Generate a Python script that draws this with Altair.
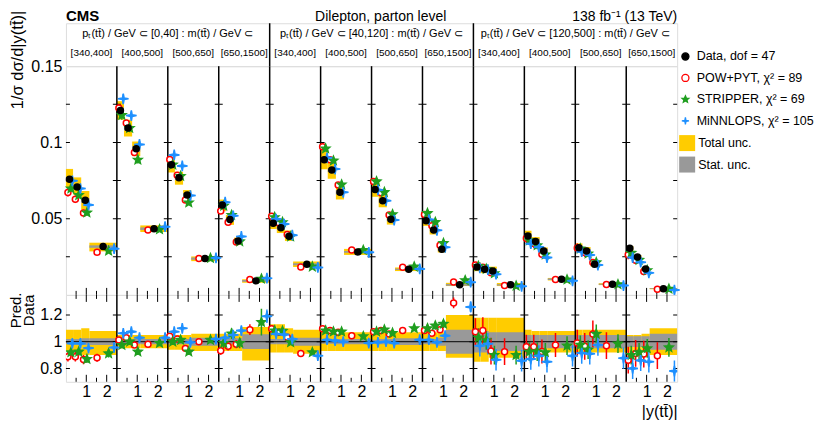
import math
import altair as alt
import pandas as pd

# ---------------- data ----------------
mass_bins = ["[340,400]", "[400,500]", "[500,650]", "[650,1500]"]
pt_bins = ["[0,40]", "[40,120]", "[120,500]"]
y_edges = [0.0, 0.35, 0.75, 1.15, 2.5]
point_labels = ["Data, dof = 47", "POW+PYT, \u03c7\u00b2 = 89", "STRIPPER, \u03c7\u00b2 = 69",
                "MiNNLOPS, \u03c7\u00b2 = 105"]
band_labels = ["Total unc.", "Stat. unc."]

data_vals = [0.0758, 0.0707, 0.0620, 0.0317,
             0.1210, 0.1094, 0.0958, 0.0434,
             0.0854, 0.0769, 0.0655, 0.0238,
             0.0590, 0.0494, 0.0354, 0.0092,
             0.0470, 0.0441, 0.0384, 0.0201,
             0.0886, 0.0819, 0.0673, 0.0282,
             0.0692, 0.0618, 0.0496, 0.0168,
             0.0487, 0.0426, 0.0299, 0.0066,
             0.0183, 0.0168, 0.0157, 0.0066,
             0.0386, 0.0351, 0.0288, 0.0103,
             0.0310, 0.0288, 0.0201, 0.0070,
             0.0306, 0.0249, 0.0170, 0.0041]

ratio_pow = [0.887, 0.887, 0.866, 0.880,
             1.013, 1.030, 0.975, 0.980,
             1.040, 1.020, 0.950, 1.000,
             0.932, 0.965, 0.980, 1.090,
             1.096, 1.070, 1.033, 0.912,
             1.096, 1.083, 1.070, 1.045,
             1.075, 1.083, 1.058, 1.083,
             1.083, 1.063, 1.090, 1.290,
             1.075, 1.083, 0.930, 0.925,
             0.962, 0.962, 0.927, 0.975,
             0.990, 0.965, 1.058, 0.970,
             0.862, 0.912, 0.907, 0.895]
ratio_strip = [0.920, 0.925, 0.870, 0.912,
               0.975, 1.000, 0.925, 0.990,
               1.000, 1.013, 0.925, 1.013,
               0.990, 1.060, 0.990, 1.146,
               1.083, 1.080, 0.995, 0.920,
               1.083, 1.075, 1.075, 1.040,
               1.075, 1.090, 1.065, 1.100,
               1.100, 1.120, 1.133, 1.450,
               1.030, 1.010, 0.900, 0.900,
               0.925, 0.925, 0.920, 0.970,
               0.977, 0.940, 1.058, 0.985,
               0.900, 0.920, 0.950, 0.957]
ratio_minn = [0.987, 0.987, 0.952, 0.957,
              1.063, 1.075, 1.030, 1.030,
              1.075, 1.100, 0.995, 1.020,
              1.030, 1.050, 1.083, 1.190,
              1.058, 1.053, 1.020, 0.895,
              1.015, 1.008, 1.000, 0.990,
              0.995, 1.000, 0.990, 1.015,
              1.015, 0.995, 1.045, 1.260,
              0.970, 0.985, 0.865, 0.857,
              0.870, 0.894, 0.850, 0.894,
              0.915, 0.910, 0.975, 0.877,
              0.800, 0.860, 0.850, 0.780]

err_pow = [0.035, 0.035, 0.035, 0.030,
           0.020, 0.020, 0.020, 0.020,
           0.020, 0.020, 0.020, 0.020,
           0.030, 0.030, 0.030, 0.040,
           0.020, 0.020, 0.020, 0.020,
           0.015, 0.015, 0.015, 0.015,
           0.015, 0.015, 0.015, 0.015,
           0.020, 0.020, 0.020, 0.040,
           0.100, 0.100, 0.100, 0.100,
           0.090, 0.090, 0.090, 0.090,
           0.100, 0.100, 0.100, 0.100,
           0.100, 0.100, 0.100, 0.100]
err_strip = [0.030, 0.030, 0.030, 0.030,
             0.025, 0.025, 0.025, 0.025,
             0.025, 0.025, 0.025, 0.025,
             0.040, 0.040, 0.040, 0.100,
             0.020, 0.020, 0.020, 0.020,
             0.020, 0.020, 0.020, 0.020,
             0.020, 0.020, 0.020, 0.020,
             0.030, 0.030, 0.030, 0.060,
             0.070, 0.070, 0.070, 0.070,
             0.070, 0.070, 0.070, 0.070,
             0.070, 0.070, 0.070, 0.070,
             0.070, 0.070, 0.070, 0.070]
err_minn = [0.020, 0.020, 0.020, 0.020,
            0.025, 0.025, 0.025, 0.025,
            0.020, 0.020, 0.020, 0.020,
            0.030, 0.030, 0.030, 0.050,
            0.015, 0.015, 0.015, 0.015,
            0.015, 0.015, 0.015, 0.015,
            0.015, 0.015, 0.015, 0.015,
            0.020, 0.020, 0.020, 0.040,
            0.080, 0.080, 0.080, 0.080,
            0.080, 0.080, 0.080, 0.080,
            0.080, 0.080, 0.080, 0.080,
            0.080, 0.080, 0.080, 0.080]

tot_up = [0.09, 0.09, 0.10, 0.08,
          0.05, 0.05, 0.05, 0.05,
          0.05, 0.05, 0.05, 0.06,
          0.06, 0.06, 0.06, 0.11,
          0.13, 0.13, 0.10, 0.09,
          0.08, 0.08, 0.08, 0.07,
          0.08, 0.08, 0.08, 0.07,
          0.07, 0.07, 0.07, 0.20,
          0.18, 0.18, 0.18, 0.18,
          0.09, 0.08, 0.08, 0.08,
          0.09, 0.09, 0.09, 0.09,
          0.05, 0.05, 0.06, 0.10]
tot_dn = [0.07, 0.07, 0.10, 0.10,
          0.05, 0.05, 0.05, 0.05,
          0.06, 0.06, 0.06, 0.07,
          0.07, 0.07, 0.07, 0.14,
          0.08, 0.08, 0.08, 0.09,
          0.07, 0.07, 0.07, 0.07,
          0.07, 0.07, 0.07, 0.07,
          0.07, 0.07, 0.07, 0.12,
          0.15, 0.15, 0.12, 0.12,
          0.08, 0.08, 0.08, 0.08,
          0.08, 0.08, 0.08, 0.08,
          0.08, 0.08, 0.08, 0.10]
stat_unc = [0.020, 0.020, 0.025, 0.025,
            0.015, 0.015, 0.020, 0.020,
            0.020, 0.020, 0.020, 0.030,
            0.020, 0.020, 0.025, 0.055,
            0.020, 0.020, 0.020, 0.030,
            0.015, 0.015, 0.020, 0.020,
            0.015, 0.020, 0.020, 0.025,
            0.020, 0.020, 0.030, 0.090,
            0.080, 0.080, 0.070, 0.070,
            0.050, 0.050, 0.050, 0.050,
            0.050, 0.050, 0.050, 0.050,
            0.040, 0.040, 0.040, 0.060]

# ---------------- styling ----------------
FONT = "Liberation Sans"
GOLD, GRAY, RED, GREEN, BLUE = "#ffcc00", "#999999", "#ff0000", "#1f9e1f", "#1e90ff"
W, H_HEAD, H_UP, H_RAT = 612, 43, 229, 87
PW = 2.5  # width of one |y| panel in axis units
NP = 12
TT = "tt\u0304"


def star_path(n, r_in):
    pts = []
    for k in range(2 * n):
        r = 1.0 if k % 2 == 0 else r_in
        a = math.pi * k / n - math.pi / 2
        pts.append((r * math.cos(a), r * math.sin(a)))
    return "M" + "L".join(f"{x:.3f},{y:.3f}" for x, y in pts) + "Z"


STAR5 = star_path(5, 0.45)
STAR4 = star_path(4, 0.22)
MARK_SIZE = {point_labels[0]: 36, point_labels[1]: 36, point_labels[2]: 80, point_labels[3]: 110}

# ---------------- tables ----------------
band_rows = []
for i, d in enumerate(data_vals):
    p, b = divmod(i, 4)
    lo, hi = p * PW + y_edges[b], p * PW + y_edges[b + 1]
    band_rows.append(dict(lo=lo, hi=hi, xc=(lo + hi) / 2, w=hi - lo, d=d,
                          t_lo=d * (1 - tot_dn[i]), t_hi=d * (1 + tot_up[i]),
                          s_lo=d * (1 - stat_unc[i]), s_hi=d * (1 + stat_unc[i]),
                          rt_lo=1 - tot_dn[i], rt_hi=1 + tot_up[i],
                          rs_lo=1 - stat_unc[i], rs_hi=1 + stat_unc[i],
                          tlab=band_labels[0], slab=band_labels[1]))
band_df = pd.DataFrame(band_rows)

pred_specs = [(point_labels[1], ratio_pow, err_pow, -0.22, RED, "circle"),
              (point_labels[2], ratio_strip, err_strip, 0.2, GREEN, STAR5),
              (point_labels[3], ratio_minn, err_minn, 0.4, BLUE, STAR4)]
pred_dfs = []
for name, rat, err, off, col, shp in pred_specs:
    rows = []
    for i, br in enumerate(band_rows):
        d = br["d"]
        rows.append(dict(series=name, msize=MARK_SIZE[name], x=br["xc"] + off * br["w"],
                         r=rat[i], r_lo=rat[i] - err[i], r_hi=rat[i] + err[i],
                         v=d * rat[i], v_lo=d * (rat[i] - err[i]), v_hi=d * (rat[i] + err[i])))
    pred_dfs.append(pd.DataFrame(rows))
data_pts = pd.DataFrame(dict(series=point_labels[0], msize=MARK_SIZE[point_labels[0]],
                             x=band_df["xc"], r=1.0, v=band_df["d"]))
pts_df = pd.concat(pred_dfs + [data_pts], ignore_index=True)

bnd_df = pd.DataFrame({"x": [PW * k for k in range(1, NP)]})
major_df = pd.DataFrame({"x": [p * PW + o for p in range(NP) for o in (1.0, 2.0)]})
minor_df = pd.DataFrame({"x": [p * PW + o for p in range(NP) for o in (0.5, 1.5)]})
ytick_up_df = pd.DataFrame([{"x": PW * k, "y": v} for k in range(NP + 1)
                            for v in (0.025, 0.05, 0.075, 0.1, 0.125)])
ytick_r_df = pd.DataFrame([{"x": PW * k, "y": v} for k in range(NP + 1) for v in (0.8, 1.0, 1.2)])

xs = alt.Scale(domain=[0, NP * PW], nice=False, zero=False)
XN = lambda f: alt.X(f, scale=xs, axis=None)   # header / upper: no x axis at all

# ---------------- header ----------------
grp_df = pd.DataFrame({"x": [5 + 10 * g for g in range(3)],
                       "t": [f"p\u209c({TT}) / GeV \u2282 {pt} : m({TT}) / GeV \u2282" for pt in pt_bins]})
binlab_df = pd.DataFrame({"x": [p * PW + PW / 2 for p in range(NP)],
                          "t": [mass_bins[p % 4] for p in range(NP)]})
sep_df = pd.DataFrame({"x": [10, 20]})
cms_df = pd.DataFrame({"x": [0], "t": ["CMS"]})
chan_df = pd.DataFrame({"x": [15.45], "t": ["Dilepton, parton level"]})
lumi_df = pd.DataFrame({"x": [30], "t": ["138 fb\u207b\u00b9 (13 TeV)"]})

TY = -2.5
header = alt.layer(
    alt.Chart(grp_df).mark_text(font=FONT, fontSize=11, baseline="alphabetic", color="black")
    .encode(x=XN("x:Q"), y=alt.value(14), text="t:N"),
    alt.Chart(binlab_df).mark_text(font=FONT, fontSize=10, baseline="alphabetic", color="black")
    .encode(x=XN("x:Q"), y=alt.value(33), text="t:N"),
    alt.Chart(sep_df).mark_rule(color="black", strokeWidth=1.5).encode(x=XN("x:Q")),
    alt.Chart(cms_df).mark_text(font=FONT, fontSize=15, fontWeight="bold", align="left",
                                baseline="alphabetic", color="black")
    .encode(x=XN("x:Q"), y=alt.value(TY), text="t:N"),
    alt.Chart(chan_df).mark_text(font=FONT, fontSize=14, align="center", baseline="alphabetic",
                                 color="black")
    .encode(x=XN("x:Q"), y=alt.value(TY), text="t:N"),
    alt.Chart(lumi_df).mark_text(font=FONT, fontSize=14, align="right", baseline="alphabetic",
                                 color="black")
    .encode(x=XN("x:Q"), y=alt.value(TY), text="t:N"),
).properties(width=W, height=H_HEAD)

# ---------------- upper panel ----------------
ys_up = alt.Scale(domain=[0, 0.15], nice=False, zero=False)
up_axis = alt.Axis(values=[0.05, 0.1, 0.15],
                   labelExpr="datum.value > 0.12 ? '0.15' : (datum.value > 0.07 ? '0.1' : '0.05')",
                   ticks=False, domain=False, grid=False,
                   labelFontSize=16, labelPadding=4, labelFont=FONT, labelColor="black",
                   labelLimit=0, labelOverlap=False,
                   title=f"1/\u03c3 d\u03c3/d|y({TT})|", titleFont=FONT, titleFontSize=16.5,
                   titleFontWeight="normal", titleColor="black", titleAngle=270,
                   titleAlign="right", titleBaseline="alphabetic", titleX=-43, titleY=-56)
YU = lambda f: alt.Y(f, scale=ys_up, axis=up_axis)

leg_pts = alt.Legend(title=None, orient="none", legendX=614, legendY=27, labelFont=FONT,
                     labelFontSize=12.5, labelColor="black", rowPadding=8.5, labelOffset=5,
                     padding=0, labelLimit=300, symbolStrokeWidth=1.3, symbolSize=50)
leg_band = alt.Legend(title=None, orient="none", legendX=614, legendY=112, labelFont=FONT,
                      labelFontSize=12.5, labelColor="black", rowPadding=5.5, labelOffset=3,
                      padding=0, labelLimit=300, symbolSize=256, symbolType="square",
                      symbolStrokeWidth=0)
shape_rng = ["circle", "circle", STAR5, STAR4]
fill_rng = ["black", "white", GREEN, BLUE]
stroke_rng = ["black", RED, GREEN, BLUE]
band_color = alt.Scale(domain=band_labels, range=[GOLD, GRAY])

up_layers = [
    alt.Chart(band_df).mark_rect().encode(
        x=XN("lo:Q"), x2="hi:Q", y=YU("t_lo:Q"), y2="t_hi:Q",
        color=alt.Color("tlab:N", scale=band_color, legend=leg_band)),
    alt.Chart(band_df).mark_rect().encode(
        x=XN("lo:Q"), x2="hi:Q", y=YU("s_lo:Q"), y2="s_hi:Q",
        color=alt.Color("slab:N", scale=band_color, legend=leg_band)),
    alt.Chart(bnd_df).mark_rule(color="black", strokeWidth=1.5).encode(x=XN("x:Q")),
    alt.Chart(major_df).mark_rule(color="black", strokeWidth=1).encode(
        x=XN("x:Q"), y=alt.value(H_UP), y2=alt.value(H_UP - 7)),
    alt.Chart(minor_df).mark_rule(color="black", strokeWidth=1).encode(
        x=XN("x:Q"), y=alt.value(H_UP), y2=alt.value(H_UP - 4)),
    alt.Chart(ytick_up_df).mark_tick(orient="horizontal", size=8, thickness=1, color="black",
                                     opacity=1, clip=True).encode(x=XN("x:Q"), y=YU("y:Q")),
]
for (name, rat, err, off, col, shp), df in zip(pred_specs, pred_dfs):
    up_layers.append(alt.Chart(df).mark_rule(color=col, strokeWidth=1.5).encode(
        x=XN("x:Q"), y=YU("v_lo:Q"), y2="v_hi:Q"))
up_layers.append(alt.Chart(pts_df).mark_point(opacity=1, strokeWidth=1.5, filled=True).encode(
    x=XN("x:Q"), y=YU("v:Q"),
    shape=alt.Shape("series:N", scale=alt.Scale(domain=point_labels, range=shape_rng), legend=leg_pts),
    fill=alt.Fill("series:N", scale=alt.Scale(domain=point_labels, range=fill_rng), legend=leg_pts),
    stroke=alt.Stroke("series:N", scale=alt.Scale(domain=point_labels, range=stroke_rng), legend=leg_pts),
    size=alt.Size("msize:Q", scale=None),
))
upper = alt.layer(*up_layers).properties(width=W, height=H_UP)

# ---------------- ratio panel ----------------
ys_r = alt.Scale(domain=[0.7, 1.35], nice=False, zero=False)
r_yaxis = alt.Axis(values=[0.8, 1.0, 1.2], format="~g", ticks=False, domain=False, grid=False,
                   labelFontSize=16, labelPadding=4, labelFont=FONT, labelColor="black",
                   title=["Pred.", "Data"], titleFont=FONT, titleFontSize=15,
                   titleFontWeight="normal", titleColor="black", titleAngle=270,
                   titleAlign="center", titleBaseline="alphabetic", titleX=-45, titleY=15,
                   titleLineHeight=13)
r_xaxis = alt.Axis(values=major_df["x"].tolist(),
                   labelExpr="abs(datum.value - 2.5 * floor(datum.value / 2.5) - 1) < 0.25 ? '1' : '2'",
                   ticks=False, domain=False, grid=False, labelFontSize=16, labelFont=FONT,
                   labelColor="black", labelPadding=2, labelFlush=False, labelOverlap=False,
                   labelSeparation=0, labelBound=False, title=f"|y({TT})|", titleFont=FONT,
                   titleFontSize=16, titleFontWeight="normal", titleColor="black",
                   titleAnchor="end", titleAlign="right", titleBaseline="alphabetic",
                   titleX=W, titleY=35)
XR = lambda f: alt.X(f, scale=xs, axis=r_xaxis)
YR = lambda f: alt.Y(f, scale=ys_r, axis=r_yaxis)

r_layers = [
    alt.Chart(band_df).mark_rect(color=GOLD, clip=True).encode(
        x=XR("lo:Q"), x2="hi:Q", y=YR("rt_lo:Q"), y2="rt_hi:Q"),
    alt.Chart(band_df).mark_rect(color=GRAY, clip=True).encode(
        x=XR("lo:Q"), x2="hi:Q", y=YR("rs_lo:Q"), y2="rs_hi:Q"),
    alt.Chart(pd.DataFrame({"y": [1.0]})).mark_rule(color="#222222", strokeWidth=1.2).encode(
        y=YR("y:Q")),
    alt.Chart(bnd_df).mark_rule(color="black", strokeWidth=1.5).encode(x=XR("x:Q")),
    alt.Chart(major_df).mark_rule(color="black", strokeWidth=1).encode(
        x=XR("x:Q"), y=alt.value(0), y2=alt.value(7)),
    alt.Chart(minor_df).mark_rule(color="black", strokeWidth=1).encode(
        x=XR("x:Q"), y=alt.value(0), y2=alt.value(4)),
    alt.Chart(major_df).mark_rule(color="black", strokeWidth=1).encode(
        x=XR("x:Q"), y=alt.value(H_RAT), y2=alt.value(H_RAT - 7)),
    alt.Chart(minor_df).mark_rule(color="black", strokeWidth=1).encode(
        x=XR("x:Q"), y=alt.value(H_RAT), y2=alt.value(H_RAT - 4)),
    alt.Chart(ytick_r_df).mark_tick(orient="horizontal", size=8, thickness=1, color="black",
                                    opacity=1, clip=True).encode(x=XR("x:Q"), y=YR("y:Q")),
]
for (name, rat, err, off, col, shp), df in zip(pred_specs, pred_dfs):
    r_layers.append(alt.Chart(df).mark_rule(color=col, strokeWidth=1.5, clip=True).encode(
        x=XR("x:Q"), y=YR("r_lo:Q"), y2="r_hi:Q"))
for (name, rat, err, off, col, shp), df in zip(pred_specs, pred_dfs):
    fillc = "white" if shp == "circle" else col
    r_layers.append(alt.Chart(df).mark_point(shape=shp, size=MARK_SIZE[name], fill=fillc,
                                             stroke=col, strokeWidth=1.5, opacity=1, filled=True,
                                             clip=True)
                    .encode(x=XR("x:Q"), y=YR("r:Q")))
ratio = alt.layer(*r_layers).properties(width=W, height=H_RAT)

chart = alt.vconcat(header, upper, ratio, spacing=0, bounds="flush").properties(
    padding=0
).configure_view(stroke="black", strokeWidth=1.5).configure(background="white")

chart.save("out.html", embed_options={"renderer": "svg", "actions": False})
